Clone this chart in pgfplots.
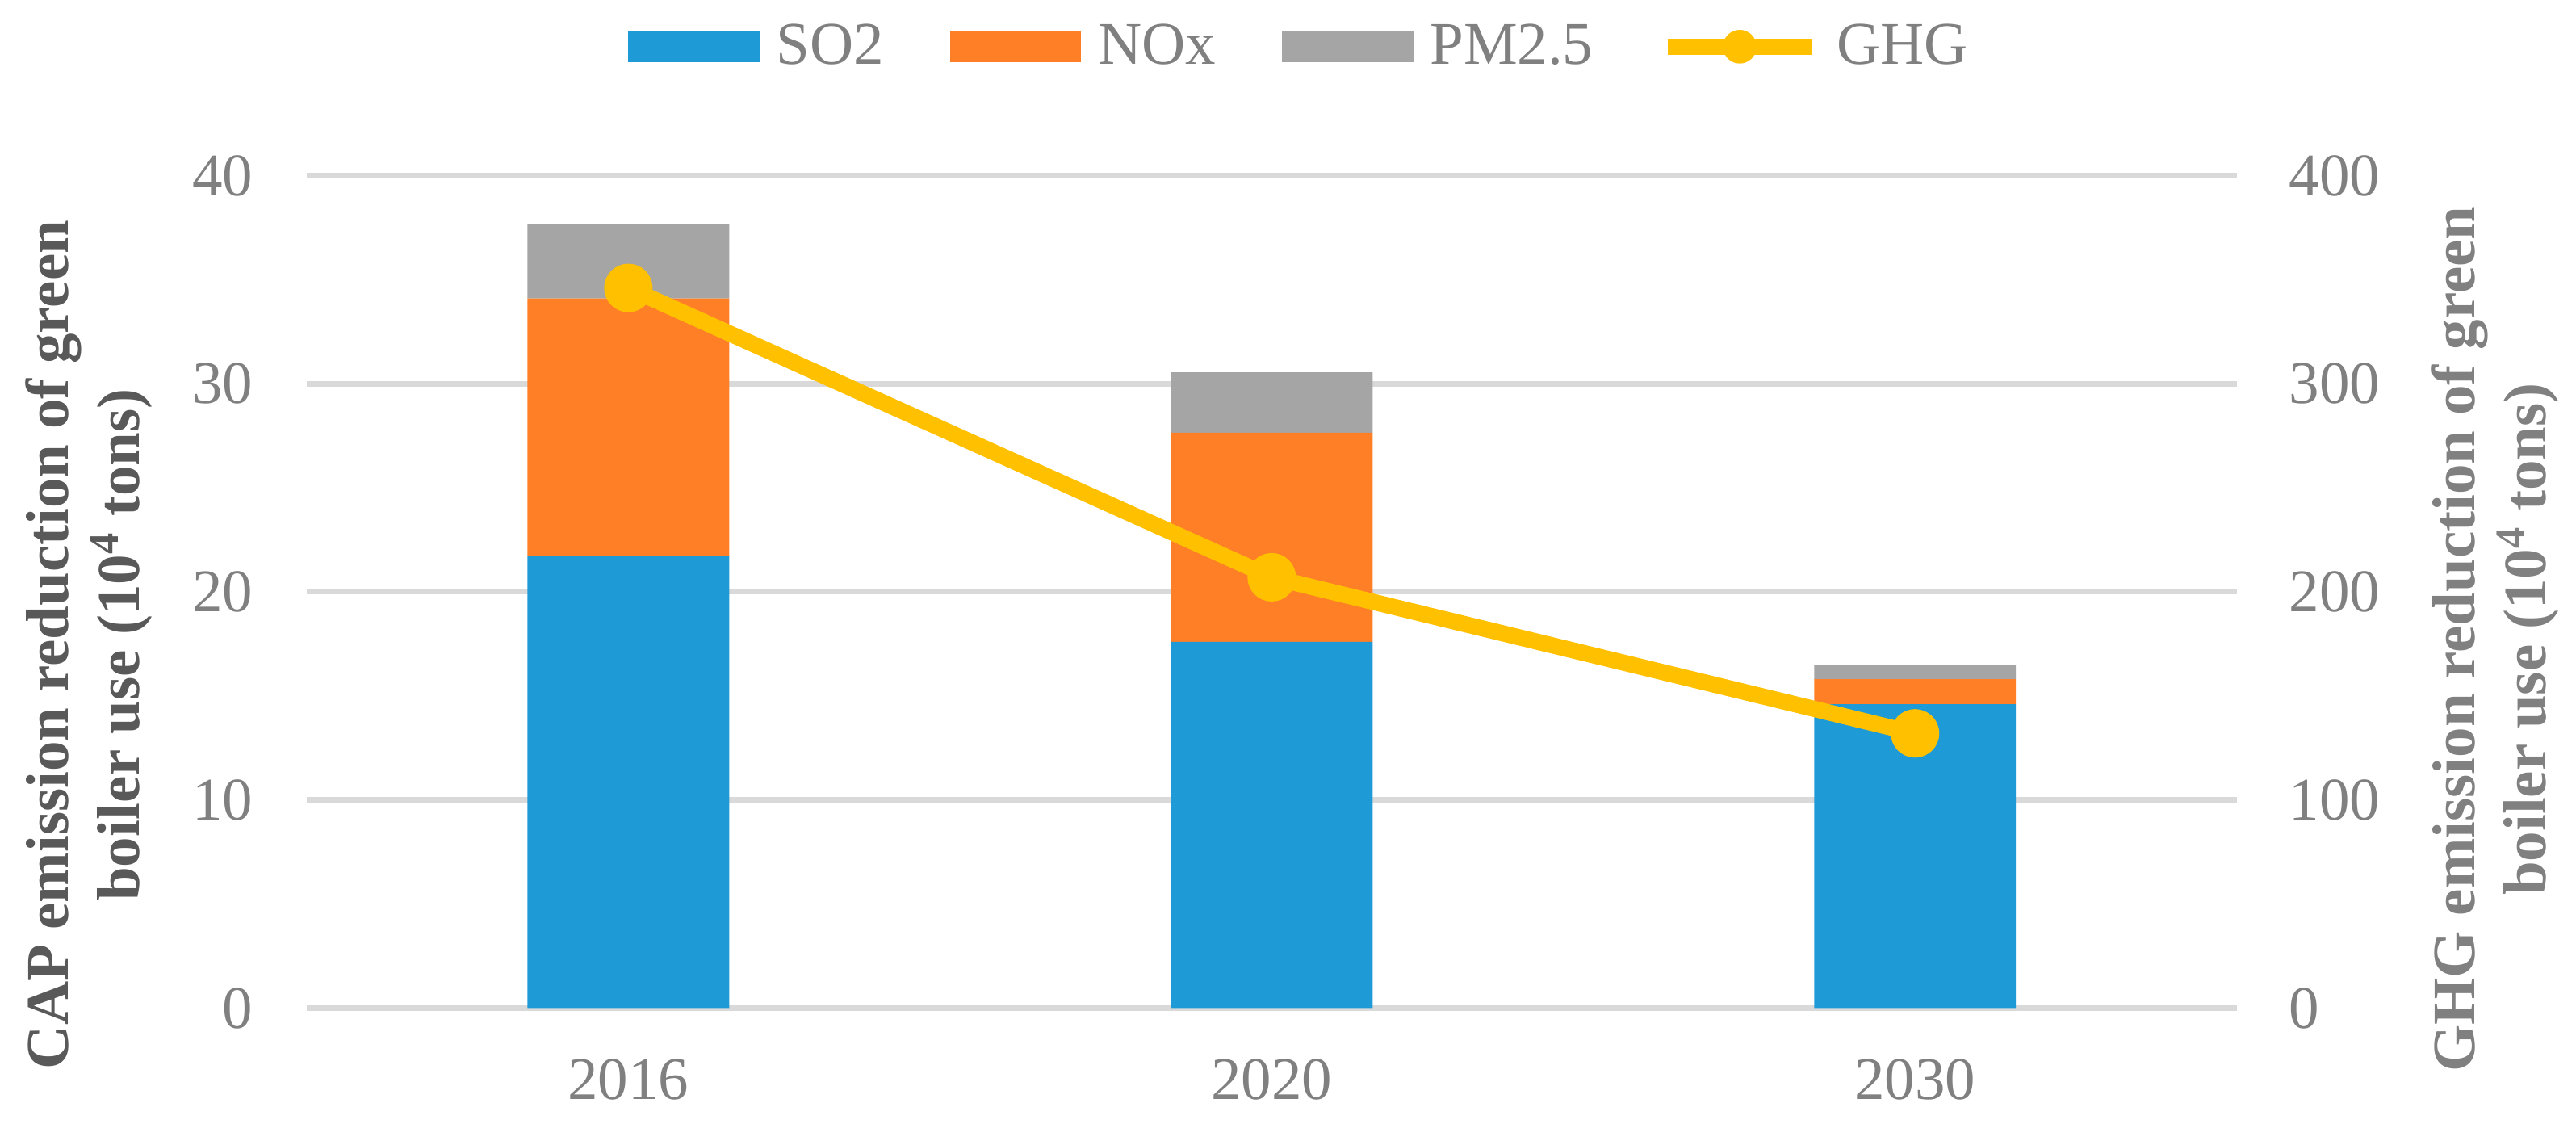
\documentclass[border=0pt]{standalone}
\usepackage{fontspec}
\setmainfont{Liberation Serif}
\usepackage{pgfplots}
\pgfplotsset{compat=1.18}
\definecolor{cso}{HTML}{1E9BD7}
\definecolor{cno}{HTML}{FF7F27}
\definecolor{cpm}{HTML}{A5A5A5}
\definecolor{cghg}{HTML}{FFC000}
\definecolor{cgrid}{HTML}{D9D9D9}
\definecolor{ctick}{HTML}{808080}
\definecolor{clab}{HTML}{595959}
\newcommand\bigfont{\fontsize{18}{21}\selectfont}
\begin{document}
\begin{tikzpicture}
\path[use as bounding box] (0,0) rectangle (766pt,334pt);
\begin{axis}[
  at={(91.2pt,34.3pt)}, anchor=south west,
  width=573.9pt, height=247.5pt, scale only axis,
  xmin=-0.5, xmax=2.5, ymin=0, ymax=40,
  ybar stacked, bar width=60pt,
  xtick={0,1,2}, xticklabels={2016,2020,2030},
  ytick={0,10,20,30,40},
  axis line style={draw=none,-},
  major tick length=0pt,
  ymajorgrids, major grid style={cgrid, line width=1.6pt},
  tick label style={font=\bigfont, text=ctick, inner sep=0pt},
  yticklabel style={xshift=-15.8pt},
  xticklabel style={yshift=-15pt},
  /pgf/number format/assume math mode=true,
  ylabel={CAP emission reduction of green\\boiler use (10\textsuperscript{4} tons)},
  ylabel style={font=\bigfont\bfseries, text=clab, align=center, inner sep=0pt,
    at={(axis description cs:-0.1129,0.4364)}, anchor=center},
]
\addplot[fill=cso, draw=none] coordinates {(0,21.7) (1,17.6) (2,14.6)};
\addplot[fill=cno, draw=none] coordinates {(0,12.4) (1,10.05) (2,1.2)};
\addplot[fill=cpm, draw=none] coordinates {(0,3.55) (1,2.9) (2,0.7)};
\end{axis}
\begin{axis}[
  at={(91.2pt,34.3pt)}, anchor=south west,
  width=573.9pt, height=247.5pt, scale only axis,
  xmin=-0.5, xmax=2.5, ymin=0, ymax=400,
  axis y line*=right, hide x axis,
  ytick={0,100,200,300,400},
  axis line style={draw=none,-},
  major tick length=0pt,
  yticklabel style={font=\bigfont, text=ctick, inner sep=0pt, xshift=15.4pt},
  /pgf/number format/assume math mode=true,
  ylabel={GHG emission reduction of green\\boiler use (10\textsuperscript{4} tons)},
  ylabel style={font=\bigfont\bfseries, text=ctick, align=center, inner sep=0pt,
    at={(axis description cs:1.134,0.443)}, anchor=center},
  legend columns=4,
  legend style={at={(axis description cs:0.5137,1.1548)}, anchor=center,
    draw=none, fill=none, font=\bigfont, text=ctick,
    nodes={inner xsep=0pt, inner ysep=2pt},
    /tikz/every odd column/.append style={column sep=5pt},
    /tikz/every even column/.append style={column sep=19.7pt}},
]
\addlegendimage{legend image code/.code={\fill[cso] (0pt,-4.5pt) rectangle (38.6pt,4.5pt);}}
\addlegendentry{SO2}
\addlegendimage{legend image code/.code={\fill[cno] (0pt,-4.5pt) rectangle (38.6pt,4.5pt);}}
\addlegendentry{NOx}
\addlegendimage{legend image code/.code={\fill[cpm] (0pt,-4.5pt) rectangle (38.6pt,4.5pt);}}
\addlegendentry{PM2.5}
\addlegendimage{legend image code/.code={\draw[cghg, line width=4.8pt] (0pt,0pt) -- (43pt,0pt); \fill[cghg] (21.5pt,0pt) circle (4.8pt);}}
\addlegendentry{GHG}
\addplot[cghg, line width=4.8pt, mark=*, mark size=4.8pt, forget plot,
  mark options={solid, draw=none, fill=cghg}]
  coordinates {(0,346) (1,207) (2,132)};
\end{axis}
\end{tikzpicture}
\end{document}
